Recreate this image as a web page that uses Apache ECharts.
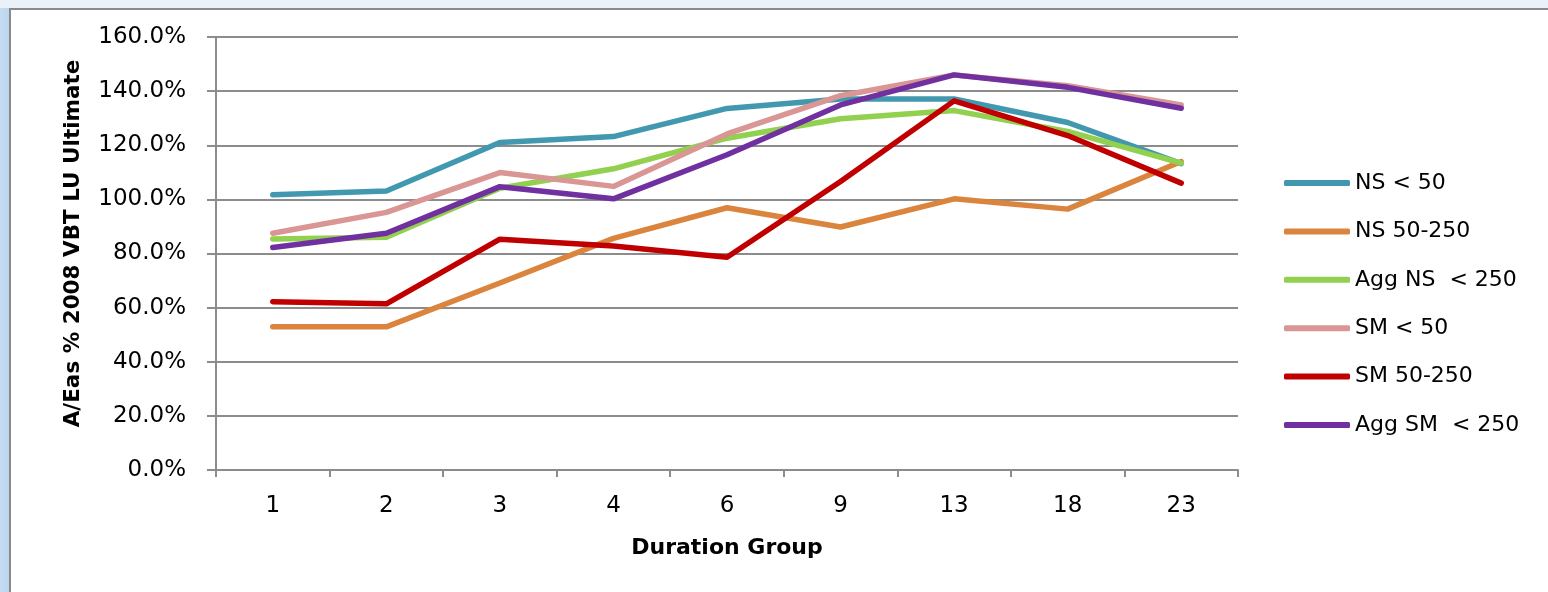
<!DOCTYPE html>
<html>
<head>
<meta charset="utf-8">
<script src="https://cdn.jsdelivr.net/npm/echarts@6/dist/echarts.min.js"></script>
<style>
  html, body { margin: 0; padding: 0; width: 1548px; height: 592px; overflow: hidden; background: #ffffff; position: relative; }
  #topband { position: absolute; left: 0; top: 0; width: 1548px; height: 8px; background: #eaf1f9; }
  #leftband { position: absolute; left: 0; top: 8px; width: 9px; height: 584px; background: linear-gradient(to right, #c6dcf2, #bcd6ef); }
  #frame { position: absolute; left: 9px; top: 8px; width: 1600px; height: 620px; border-top: 2px solid #8a8a8a; border-left: 2px solid #8a8a8a; box-sizing: border-box; background: #ffffff; }
  #chart { position: absolute; left: 0; top: 0; width: 1548px; height: 592px; }
</style>
</head>
<body>
<div id="topband"></div>
<div id="leftband"></div>
<div id="frame"></div>
<div id="chart"></div>
<script>
// Duration groups on the category axis
const categories = ['1', '2', '3', '4', '6', '9', '13', '18', '23'];

// A/E ratios (percent) by duration group
const seriesNames = ['NS < 50', 'NS 50-250', 'Agg NS  < 250', 'SM < 50', 'SM 50-250', 'Agg SM  < 250'];
const nsUnder50    = [101.7, 103.1, 121.0, 123.2, 133.6, 137.1, 137.1, 128.4, 113.2];
const ns50to250    = [52.9, 52.9, 69.1, 85.6, 96.9, 89.8, 100.2, 96.4, 114.0];
const aggNsUnder250 = [85.4, 86.0, 104.1, 111.3, 122.6, 129.8, 132.8, 125.1, 113.4];
const smUnder50    = [87.5, 95.2, 109.9, 104.8, 124.2, 138.3, 146.0, 142.0, 134.9];
const sm50to250    = [62.2, 61.4, 85.3, 82.8, 78.6, 106.6, 136.4, 123.6, 106.0];
const aggSmUnder250 = [82.2, 87.5, 104.7, 100.2, 116.5, 134.9, 146.0, 141.4, 133.7];

const seriesData = [nsUnder50, ns50to250, aggNsUnder250, smUnder50, sm50to250, aggSmUnder250];
const colors = ['#4198af', '#db843d', '#92d050', '#d99694', '#c00000', '#7030a0'];

const axisGray = '#8c8c8c';
const tickFont = 'DejaVu Sans';

const chart = echarts.init(document.getElementById('chart'), null, { renderer: 'canvas' });

chart.setOption({
  backgroundColor: 'transparent',
  animation: false,
  color: colors,
  grid: { left: 216, top: 37, right: 310, bottom: 122, containLabel: false },
  legend: {
    orient: 'vertical',
    left: 1279,
    top: 167,
    itemWidth: 66,
    itemHeight: 6,
    itemGap: 26.4,
    icon: 'roundRect',
    data: seriesNames,
    textStyle: { fontFamily: tickFont, fontSize: 22, color: '#000000', lineHeight: 22 }
  },
  xAxis: {
    type: 'category',
    data: categories,
    boundaryGap: true,
    name: 'Duration Group',
    nameLocation: 'middle',
    nameGap: 67,
    nameTextStyle: { fontFamily: 'DejaVu Sans', fontWeight: 'bold', fontSize: 22, color: '#000000' },
    axisLine: { lineStyle: { color: axisGray, width: 2 } },
    axisTick: { show: true, length: 7, lineStyle: { color: axisGray, width: 2 } },
    axisLabel: { fontFamily: tickFont, fontSize: 23, color: '#000000', margin: 25 }
  },
  yAxis: {
    type: 'value',
    min: 0,
    max: 160,
    interval: 20,
    name: 'A/Eas % 2008 VBT LU Ultimate',
    nameLocation: 'middle',
    nameGap: 132,
    nameRotate: 90,
    nameTextStyle: { fontFamily: 'DejaVu Sans', fontWeight: 'bold', fontSize: 21.5, color: '#000000', padding: [0, 0, 0, 20] },
    axisLine: { show: true, lineStyle: { color: axisGray, width: 2 } },
    axisTick: { show: true, length: 9, lineStyle: { color: axisGray, width: 2 } },
    axisLabel: {
      fontFamily: tickFont, fontSize: 23, color: '#000000', margin: 30,
      formatter: v => v.toFixed(1) + '%'
    },
    splitLine: { show: true, lineStyle: { color: axisGray, width: 2 } }
  },
  series: seriesNames.map((name, i) => ({
    name: name,
    type: 'line',
    data: seriesData[i],
    showSymbol: false,
    symbol: 'none',
    smooth: false,
    lineStyle: { width: 5.5, color: colors[i], cap: 'round', join: 'round' },
    itemStyle: { color: colors[i] }
  }))
});
</script>
</body>
</html>
